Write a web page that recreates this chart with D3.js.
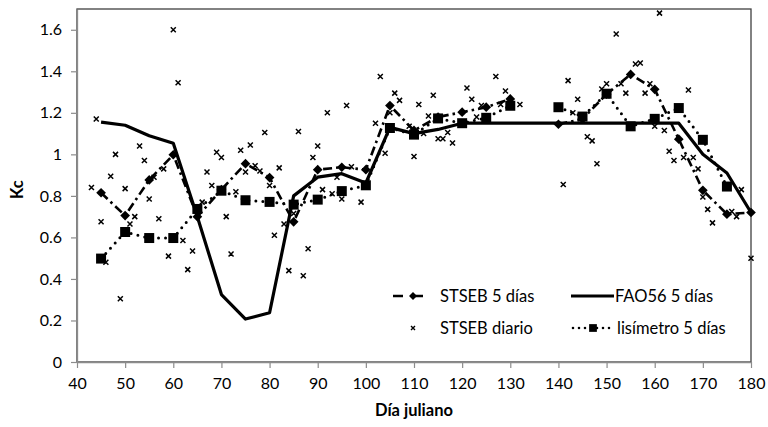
<!DOCTYPE html>
<html>
<head>
<meta charset="utf-8">
<script src="https://cdn.jsdelivr.net/npm/d3@7"></script>
<style>
  body { margin: 0; background: #fff; }
  text { font-family: Lato, "Open Sans", sans-serif; fill: #000; }
</style>
</head>
<body>
<div id="chart"></div>
<script>

// dias julianos de las series cada 5 dias
const days5 = [ 45, 50, 55, 60, 65, 70, 75, 80, 85, 90, 95, 100, 105, 110, 115, 120, 125, 130,
	135, 140, 145, 150, 155, 160, 165, 170, 175, 180 ];

const fao56 = [ 1.155, 1.14, 1.09, 1.053, 0.70, 0.325, 0.207, 0.237, 0.80, 0.89, 0.907, 0.862, 1.13, 1.10, 1.12, 1.15, 1.15, 1.15,
	1.15, 1.15, 1.15, 1.15, 1.15, 1.15, 1.15, 1.0, 0.91, 0.72 ];

const stseb5 = [ 0.815, 0.705, 0.877, 0.998, 0.70, 0.83, 0.955, 0.888, 0.675, 0.926, 0.938, 0.926, 1.235, 1.115, 1.18, 1.203, 1.227, 1.267,
	null, 1.145, 1.17, 1.29, 1.385, 1.313, 1.073, 0.827, 0.712, 0.72 ];

const lisimetro = [ 0.498, 0.626, 0.597, 0.597, 0.737, 0.825, 0.779, 0.771, 0.758, 0.782, 0.823, 0.851, 1.127, 1.095, 1.173, 1.15, 1.176, 1.234,
	null, 1.227, 1.182, 1.292, 1.135, 1.171, 1.223, 1.07, 0.845, null ];

// STSEB diario
const dailyDays = [ 43, 44, 45, 46, 47, 48, 49, 50, 51, 52, 53, 54, 55, 56, 57, 58, 59, 60, 61, 62, 63, 64, 66, 67, 68, 69,
	70, 71, 72, 73, 74, 75, 76, 77, 78, 79, 80, 81, 82, 83, 84, 85, 86, 87, 88, 89, 90, 91, 92, 93, 94, 95, 96, 97, 99,
	102, 103, 104, 105, 106, 107, 109, 110, 111, 112, 113, 114, 115, 116, 117, 118, 121, 122, 123, 124, 127, 128, 129, 132,
	141, 142, 143, 144, 146, 147, 148, 149, 150, 152, 153, 154, 156, 157, 158, 159, 160, 161, 162, 163, 164, 166, 167, 168,
	169, 170, 171, 172, 176, 177, 178, 180 ];

const dailyKc = [ 0.84, 1.17, 0.675, 0.48, 0.895, 1.0, 0.305, 0.835, 0.665, 0.70, 1.04, 0.97, 0.785, 0.89, 0.69, 0.93, 0.51, 1.60, 1.345, 0.585, 0.445, 0.535, 0.77, 0.915, 0.85, 1.01,
	0.985, 0.70, 0.52, 0.82, 1.02, 0.915, 1.045, 0.945, 0.92, 1.105, 0.85, 0.61, 0.935, 0.665, 0.44, 0.715, 1.11, 0.415, 0.545, 0.985, 1.04, 0.83, 1.20, 0.81, 0.89, 0.785, 1.235, 0.94, 0.77,
	1.15, 1.375, 1.005, 1.20, 1.295, 1.26, 1.135, 0.99, 1.24, 1.10, 1.185, 1.285, 1.075, 1.075, 1.105, 1.055, 1.32, 1.265, 1.18, 1.235, 1.375, 1.24, 1.305, 1.24,
	0.855, 1.355, 1.20, 1.265, 1.085, 1.065, 0.955, 1.315, 1.34, 1.58, 1.34, 1.295, 1.435, 1.44, 1.295, 1.34, 1.135, 1.68, 1.115, 1.015, 0.97, 0.985, 1.31, 0.985,
	0.93, 0.795, 0.735, 0.67, 0.725, 0.70, 0.83, 0.50 ];

const xTicks = d3.range( 40, 181, 10 );
const yTicks = [ 0, 0.2, 0.4, 0.6, 0.8, 1, 1.2, 1.4, 1.6 ];

///////////////////////////////////////////////////////////////////////

const width = 768, height = 427;
const margin = { left: 77, right: 17, top: 9, bottom: 65 };

const svg = d3.select( "#chart" )
	.append( "svg" )
	.attr( "width", width )
	.attr( "height", height );

const x = d3.scaleLinear()
	.domain( [ 40, 180 ] )
	.range( [ margin.left, width - margin.right ] );

const y = d3.scaleLinear()
	.domain( [ 0, 1.7 ] )
	.range( [ height - margin.bottom, margin.top ] );

// plot area border
svg.append( "rect" )
	.attr( "x", x( 40 ) )
	.attr( "y", y( 1.7 ) )
	.attr( "width", x( 180 ) - x( 40 ) )
	.attr( "height", y( 0 ) - y( 1.7 ) )
	.attr( "fill", "none" )
	.attr( "stroke", "#404040" )
	.attr( "stroke-width", 1.3 );

const xAxis = svg.append( "g" )
	.attr( "transform", "translate(0," + y( 0 ) + ")" )
	.call( d3.axisBottom( x ).tickValues( xTicks ).tickSize( 6 ).tickSizeOuter( 0 ).tickPadding( 10 ) );

const yAxis = svg.append( "g" )
	.attr( "transform", "translate(" + x( 40 ) + ",0)" )
	.call( d3.axisLeft( y ).tickValues( yTicks ).tickSize( 6 ).tickSizeOuter( 0 ).tickPadding( 9 )
		.tickFormat( d => String( d ) ) );

[ xAxis, yAxis ].forEach( function( g ) {
	g.select( ".domain" ).attr( "stroke", "#8c8c8c" ).attr( "stroke-width", 1.3 );
	g.selectAll( ".tick line" ).attr( "stroke", "#8c8c8c" ).attr( "stroke-width", 1.2 );
	g.selectAll( ".tick text" )
		.attr( "font-family", "Lato, sans-serif" )
		.attr( "font-size", 16 )
		.attr( "fill", "#000" );
} );

// axis titles
svg.append( "text" )
	.attr( "x", ( x( 40 ) + x( 180 ) ) / 2 )
	.attr( "y", 416 )
	.attr( "text-anchor", "middle" )
	.attr( "font-size", 16.5 )
	.attr( "font-weight", "bold" )
	.text( "Día juliano" );

svg.append( "text" )
	.attr( "transform", "translate(23," + y( 0.83 ) + ") rotate(-90)" )
	.attr( "text-anchor", "middle" )
	.attr( "font-size", 16.5 )
	.attr( "font-weight", "bold" )
	.text( "Kc" );

///////////////////////////////////////////////////////////////////////

const line = function( values ) {
	return d3.line()
		.defined( ( d, i ) => values[ i ] !== null )
		.x( ( d, i ) => x( days5[ i ] ) )
		.y( ( d, i ) => y( values[ i ] ) )( values );
};

const diamond = d3.symbol().type( d3.symbolDiamond2 ).size( 60 );
const square = d3.symbol().type( d3.symbolSquare ).size( 100 );

// STSEB diario crosses
svg.append( "g" )
	.selectAll( "path" )
	.data( dailyDays )
	.join( "path" )
		.attr( "transform", ( d, i ) => "translate(" + x( d ) + "," + y( dailyKc[ i ] ) + ")" )
		.attr( "d", "M-2.5,-2.5L2.5,2.5M-2.5,2.5L2.5,-2.5" )
		.attr( "stroke", "#000" )
		.attr( "stroke-width", 1.5 );

// FAO56 5 dias
svg.append( "path" )
	.attr( "d", line( fao56 ) )
	.attr( "fill", "none" )
	.attr( "stroke", "#000" )
	.attr( "stroke-width", 3.2 )
	.attr( "stroke-linejoin", "round" );

// lisimetro 5 dias
svg.append( "path" )
	.attr( "d", line( lisimetro ) )
	.attr( "fill", "none" )
	.attr( "stroke", "#000" )
	.attr( "stroke-width", 3 )
	.attr( "stroke-linecap", "round" )
	.attr( "stroke-dasharray", "0,7" );

svg.append( "g" )
	.selectAll( "path" )
	.data( days5.filter( ( d, i ) => lisimetro[ i ] !== null ) )
	.join( "path" )
		.attr( "transform", d => "translate(" + x( d ) + "," + y( lisimetro[ days5.indexOf( d ) ] ) + ")" )
		.attr( "d", square )
		.attr( "fill", "#000" );

// STSEB 5 dias
svg.append( "path" )
	.attr( "d", line( stseb5 ) )
	.attr( "fill", "none" )
	.attr( "stroke", "#000" )
	.attr( "stroke-width", 2.6 )
	.attr( "stroke-dasharray", "9,4,2.5,4" );

svg.append( "g" )
	.selectAll( "path" )
	.data( days5.filter( ( d, i ) => stseb5[ i ] !== null ) )
	.join( "path" )
		.attr( "transform", d => "translate(" + x( d ) + "," + y( stseb5[ days5.indexOf( d ) ] ) + ")" )
		.attr( "d", diamond )
		.attr( "fill", "#000" );

///////////////////////////////////////////////////////////////////////
// legend

const legend = svg.append( "g" );
const row1 = 296, row2 = 328;
const legendFont = 16.5;

// STSEB 5 dias
legend.append( "line" )
	.attr( "x1", 393 ).attr( "x2", 431 ).attr( "y1", row1 ).attr( "y2", row1 )
	.attr( "stroke", "#000" ).attr( "stroke-width", 2.6 )
	.attr( "stroke-dasharray", "10,10,10" );
legend.append( "path" )
	.attr( "transform", "translate(413," + row1 + ")" )
	.attr( "d", d3.symbol().type( d3.symbolDiamond2 ).size( 40 ) )
	.attr( "fill", "#000" );
legend.append( "text" )
	.attr( "x", 440 ).attr( "y", row1 + 6 )
	.attr( "font-size", legendFont )
	.text( "STSEB 5 días" );

// STSEB diario
legend.append( "path" )
	.attr( "transform", "translate(413," + row2 + ")" )
	.attr( "d", "M-2,-2L2,2M-2,2L2,-2" )
	.attr( "stroke", "#000" ).attr( "stroke-width", 1.4 );
legend.append( "text" )
	.attr( "x", 440 ).attr( "y", row2 + 6 )
	.attr( "font-size", legendFont )
	.text( "STSEB diario" );

// FAO56 5 dias
legend.append( "line" )
	.attr( "x1", 571 ).attr( "x2", 614 ).attr( "y1", row1 ).attr( "y2", row1 )
	.attr( "stroke", "#000" ).attr( "stroke-width", 3.2 );
legend.append( "text" )
	.attr( "x", 615 ).attr( "y", row1 + 6 )
	.attr( "font-size", legendFont )
	.text( "FAO56 5 días" );

// lisimetro 5 dias
legend.append( "line" )
	.attr( "x1", 573 ).attr( "x2", 613 ).attr( "y1", row2 ).attr( "y2", row2 )
	.attr( "stroke", "#000" ).attr( "stroke-width", 2.6 )
	.attr( "stroke-linecap", "round" )
	.attr( "stroke-dasharray", "0,6" );
legend.append( "path" )
	.attr( "transform", "translate(593," + row2 + ")" )
	.attr( "d", d3.symbol().type( d3.symbolSquare ).size( 60 ) )
	.attr( "fill", "#000" );
legend.append( "text" )
	.attr( "x", 617 ).attr( "y", row2 + 6 )
	.attr( "font-size", legendFont )
	.text( "lisímetro 5 días" );

</script>
</body>
</html>
